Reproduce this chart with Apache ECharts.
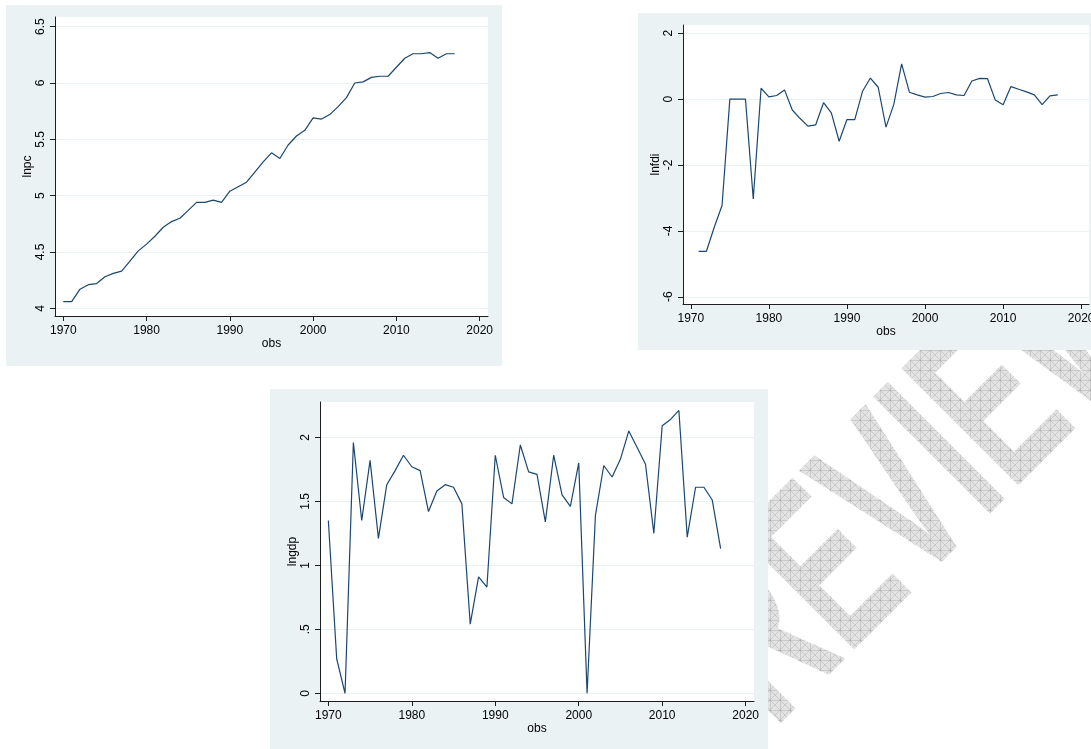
<!DOCTYPE html>
<html>
<head>
<meta charset="utf-8">
<title>lnpc, lnfdi, lngdp over time</title>
<script src="https://cdn.jsdelivr.net/npm/echarts@6/dist/echarts.min.js"></script>
<style>
  html, body { margin: 0; padding: 0; background: #ffffff; }
  #chart { width: 1091px; height: 749px; }
</style>
</head>
<body>
<div id="chart"></div>
<script>
// Observation years
const years = [1970, 1971, 1972, 1973, 1974, 1975, 1976, 1977, 1978, 1979,
               1980, 1981, 1982, 1983, 1984, 1985, 1986, 1987, 1988, 1989,
               1990, 1991, 1992, 1993, 1994, 1995, 1996, 1997, 1998, 1999,
               2000, 2001, 2002, 2003, 2004, 2005, 2006, 2007, 2008, 2009,
               2010, 2011, 2012, 2013, 2014, 2015, 2016, 2017];

// log per-capita series
const lnpc = [4.06, 4.06, 4.17, 4.21, 4.22, 4.28, 4.31, 4.33, 4.42, 4.51,
              4.57, 4.64, 4.72, 4.77, 4.80, 4.87, 4.94, 4.94, 4.96, 4.94,
              5.04, 5.08, 5.12, 5.21, 5.30, 5.38, 5.33, 5.45, 5.53, 5.58,
              5.69, 5.68, 5.72, 5.79, 5.87, 6.00, 6.01, 6.05, 6.06, 6.06,
              6.14, 6.22, 6.26, 6.26, 6.27, 6.22, 6.26, 6.26];

// log FDI series (no value for 1970)
const lnfdi = [null, -4.62, -4.62, -3.89, -3.23, 0.00, 0.00, 0.00, -3.03, 0.33,
               0.07, 0.11, 0.28, -0.33, -0.59, -0.82, -0.78, -0.11, -0.42, -1.28,
               -0.62, -0.62, 0.24, 0.64, 0.36, -0.85, -0.16, 1.07, 0.21, 0.13,
               0.06, 0.08, 0.17, 0.20, 0.13, 0.11, 0.55, 0.63, 0.62, -0.03,
               -0.17, 0.38, 0.30, 0.22, 0.13, -0.17, 0.10, 0.13];

// log GDP growth series
const lngdp = [1.35, 0.27, 0.00, 1.96, 1.35, 1.82, 1.21, 1.63, 1.74, 1.86,
               1.77, 1.74, 1.42, 1.58, 1.63, 1.61, 1.48, 0.54, 0.91, 0.83,
               1.86, 1.53, 1.48, 1.94, 1.73, 1.71, 1.34, 1.86, 1.55, 1.46,
               1.80, 0.00, 1.39, 1.78, 1.69, 1.83, 2.05, 1.92, 1.79, 1.25,
               2.09, 2.14, 2.21, 1.22, 1.61, 1.61, 1.51, 1.13];

// Tick labels
const xTicks = [1970, 1980, 1990, 2000, 2010, 2020];
const lnpcTicks = [4, 4.5, 5, 5.5, 6, 6.5];
const lnfdiTicks = [-6, -4, -2, 0, 2];
const lngdpTicks = [0, 0.5, 1, 1.5, 2];

const FONT = '"Liberation Sans", Arial, Helvetica, sans-serif';
const INK = '#000000';
const AXIS = '#1e1e1e';
const PANEL = '#eaf2f3';
const LINE = '#1a476f';

function pairs(vals) {
  const out = [];
  years.forEach((y, i) => { if (vals[i] !== null) out.push([y, vals[i]]); });
  return out;
}

function yearText(v) { return String(v); }
function tickText(v) {
  return String(v).replace(/^0\./, '.').replace(/^-0\./, '-.');
}

function xAxisFor(gridIndex) {
  return {
    type: 'value', gridIndex, min: 1969, max: 2021,
    name: 'obs', nameLocation: 'middle', nameGap: 22, nameMoveOverlap: false,
    nameTextStyle: { fontSize: 12, color: INK, fontFamily: FONT },
    axisLine: { show: true, onZero: false, lineStyle: { color: AXIS, width: 1 } },
    axisTick: { show: true, length: 5, customValues: xTicks, lineStyle: { color: AXIS, width: 1 } },
    axisLabel: { show: true, customValues: xTicks, margin: 9, fontSize: 12, color: INK,
                 fontFamily: FONT, formatter: yearText },
    splitLine: { show: false }
  };
}

function yAxisFor(gridIndex, name, min, max, ticks) {
  return {
    type: 'value', gridIndex, min, max,
    name, nameLocation: 'middle', nameGap: 21, nameMoveOverlap: false,
    nameTextStyle: { fontSize: 12, color: INK, fontFamily: FONT },
    axisLine: { show: true, onZero: false, lineStyle: { color: AXIS, width: 1 } },
    axisTick: { show: true, length: 5, customValues: ticks, lineStyle: { color: AXIS, width: 1 } },
    axisLabel: { show: true, customValues: ticks, rotate: 90, margin: 8, fontSize: 12,
                 color: INK, fontFamily: FONT, formatter: tickText },
    splitLine: { show: true, lineStyle: { color: PANEL, width: 1 } }
  };
}

function lineSeries(idx, vals) {
  return {
    type: 'line', xAxisIndex: idx, yAxisIndex: idx, data: pairs(vals),
    showSymbol: false, symbol: 'none', silent: true,
    lineStyle: { color: LINE, width: 1.2 }, z: 3
  };
}

// Crosshatch tile (transparent ground) laid over the "PREVIEW" stamp
function hatchTile() {
  const s = 10;
  const c = document.createElement('canvas');
  c.width = s; c.height = s;
  const g = c.getContext('2d');
  g.strokeStyle = 'rgba(150,150,150,0.32)';
  g.lineWidth = 1;
  g.beginPath();
  g.moveTo(0, 0.5); g.lineTo(s, 0.5);
  g.moveTo(0.5, 0); g.lineTo(0.5, s);
  g.moveTo(0, 0); g.lineTo(s, s);
  g.moveTo(s, 0); g.lineTo(0, s);
  g.stroke();
  return c;
}

const STAMP_TEXT = 'PREVIEW';

const chart = echarts.init(document.getElementById('chart'), null, { renderer: 'canvas' });

chart.setOption({
  animation: false,
  graphic: [
    {
      // stamp lettering, on its own layer underneath the panels
      type: 'text', silent: true, zlevel: -1, z: 0,
      x: 894, y: 516, rotation: Math.PI / 4, scaleX: 0.6, scaleY: 1,
      style: {
        text: STAMP_TEXT,
        font: 'bold 240px ' + FONT,
        textAlign: 'center', textVerticalAlign: 'middle', verticalAlign: 'middle',
        fill: '#e3e3e3'
      }
    },
    {
      // hatch painted only where the lettering already is
      type: 'rect', silent: true, zlevel: -1, z: 1,
      shape: { x: 0, y: 0, width: 1091, height: 749 },
      style: { fill: { image: hatchTile(), repeat: 'repeat' }, blend: 'source-atop' }
    },
    { type: 'rect', silent: true, z: -10, shape: { x: 6, y: 5, width: 496, height: 361 }, style: { fill: PANEL } },
    { type: 'rect', silent: true, z: -10, shape: { x: 638, y: 13, width: 470, height: 337 }, style: { fill: PANEL } },
    { type: 'rect', silent: true, z: -10, shape: { x: 270, y: 389, width: 498, height: 370 }, style: { fill: PANEL } }
  ],
  grid: [
    { left: 55, top: 17, width: 433, height: 299, show: true, backgroundColor: '#ffffff', borderWidth: 0, outerBoundsMode: 'none', containLabel: false },
    { left: 683, top: 25, width: 406, height: 279, show: true, backgroundColor: '#ffffff', borderWidth: 0, outerBoundsMode: 'none', containLabel: false },
    { left: 320, top: 402, width: 434, height: 299, show: true, backgroundColor: '#ffffff', borderWidth: 0, outerBoundsMode: 'none', containLabel: false }
  ],
  xAxis: [xAxisFor(0), xAxisFor(1), xAxisFor(2)],
  yAxis: [
    yAxisFor(0, 'lnpc', 3.932, 6.586, lnpcTicks),
    yAxisFor(1, 'lnfdi', -6.22, 2.25, lnfdiTicks),
    yAxisFor(2, 'lngdp', -0.06, 2.276, lngdpTicks)
  ],
  series: [
    lineSeries(0, lnpc),
    lineSeries(1, lnfdi),
    lineSeries(2, lngdp)
  ]
});
</script>
</body>
</html>
